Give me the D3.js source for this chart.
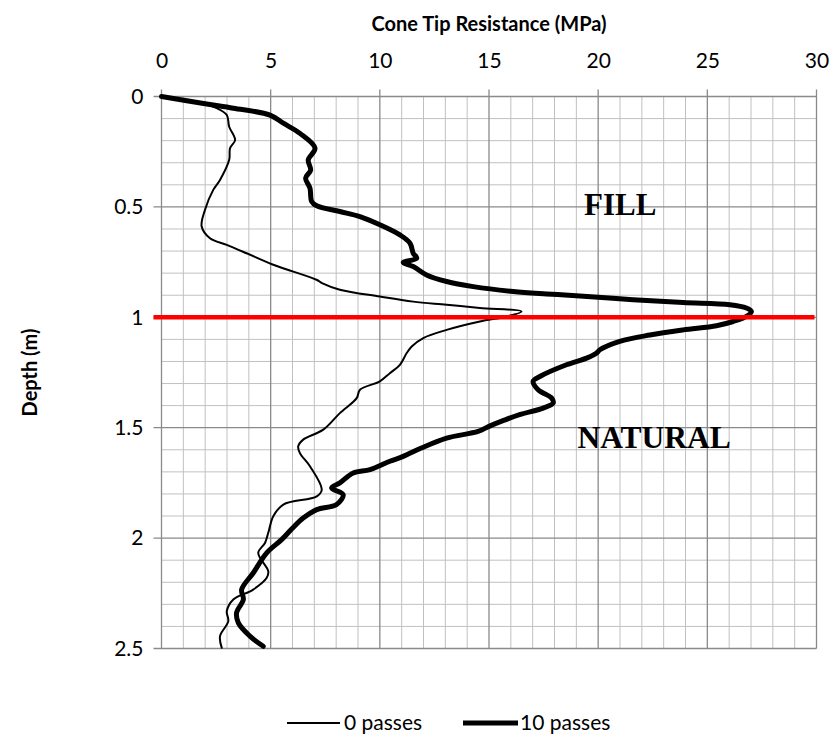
<!DOCTYPE html>
<html>
<head>
<meta charset="utf-8">
<script src="https://cdnjs.cloudflare.com/ajax/libs/d3/7.8.5/d3.min.js"></script>
<style>
  html, body { margin: 0; padding: 0; background: #ffffff; }
  svg { display: block; }
</style>
</head>
<body>
<svg id="chart" width="835" height="742"></svg>
<script>
// ---------------- DATA ----------------
const xTickLabels = ["0", "5", "10", "15", "20", "25", "30"];
const yTickLabels = ["0", "0.5", "1", "1.5", "2", "2.5"];
const xTicks = [0, 5, 10, 15, 20, 25, 30];
const yTicks = [0, 0.5, 1, 1.5, 2, 2.5];
const seriesNames = ["0 passes", "10 passes"];

// 0 passes: depth (m) and cone tip resistance (MPa)
const depth0 = [0, 0.034, 0.053, 0.084, 0.137, 0.197, 0.234, 0.287, 0.378, 0.423, 0.514, 0.589, 0.642, 0.672, 0.710, 0.762, 0.830, 0.845, 0.875, 0.906, 0.929, 0.943, 0.958, 0.974, 0.996, 1.019, 1.057, 1.094, 1.132, 1.162, 1.215, 1.253, 1.290, 1.328, 1.366, 1.434, 1.509, 1.554, 1.585, 1.615, 1.675, 1.781, 1.811, 1.848, 1.901, 1.976, 2.022, 2.067, 2.150, 2.180, 2.233, 2.278, 2.331, 2.376, 2.444, 2.497];
const q0 =     [0, 2.00, 2.53, 2.99, 3.10, 3.37, 3.14, 3.10, 2.68, 2.37, 1.99, 1.84, 2.22, 2.99, 3.90, 5.12, 7.10, 7.35, 8.17, 10.00, 11.53, 13.06, 14.58, 16.49, 15.81, 14.58, 13.06, 11.99, 11.46, 11.23, 10.92, 10.46, 10.00, 9.09, 8.94, 8.17, 7.41, 6.49, 6.26, 6.34, 6.80, 7.34, 7.11, 5.58, 5.12, 4.89, 4.74, 4.43, 4.89, 4.82, 4.20, 3.29, 2.99, 3.06, 2.68, 2.76];

// 10 passes
const depth10 = [0, 0.034, 0.053, 0.084, 0.121, 0.167, 0.234, 0.287, 0.333, 0.370, 0.415, 0.476, 0.495, 0.521, 0.544, 0.581, 0.627, 0.664, 0.710, 0.732, 0.752, 0.770, 0.808, 0.838, 0.861, 0.883, 0.894, 0.903, 0.920, 0.933, 0.943, 0.958, 0.974, 0.996, 1.019, 1.038, 1.057, 1.080, 1.109, 1.147, 1.162, 1.185, 1.215, 1.268, 1.290, 1.328, 1.366, 1.388, 1.411, 1.441, 1.466, 1.494, 1.517, 1.547, 1.592, 1.630, 1.652, 1.690, 1.705, 1.750, 1.773, 1.803, 1.848, 1.871, 1.909, 1.960, 2.007, 2.067, 2.158, 2.233, 2.278, 2.338, 2.384, 2.444, 2.490];
const q10 =     [0, 2.07, 3.29, 4.97, 5.58, 6.34, 7.03, 6.72, 6.83, 6.60, 6.80, 6.88, 7.11, 8.17, 9.09, 10.00, 10.92, 11.38, 11.53, 11.69, 11.07, 11.53, 12.14, 13.06, 14.28, 16.11, 17.64, 19.16, 21.60, 23.89, 26.03, 26.79, 27.02, 26.79, 26.18, 25.42, 23.89, 22.37, 20.99, 20.08, 19.93, 19.47, 18.55, 17.33, 17.02, 17.25, 17.87, 17.94, 17.48, 16.40, 15.70, 15.00, 14.50, 13.06, 11.90, 11.07, 10.46, 9.55, 8.78, 8.17, 7.79, 8.32, 8.02, 7.11, 6.49, 5.95, 5.50, 4.82, 4.20, 3.67, 3.75, 3.44, 3.52, 4.05, 4.66];

const boundaryDepth = 1.0;
const layerLabels = ["FILL", "NATURAL"];
const layerLabelQ = [19.35, 19.05];
const layerLabelDepth = [0.538, 1.59];

// ---------------- CHART ----------------
const svg = d3.select("#chart");
const x = d3.scaleLinear().domain([0, 30]).range([161.5, 816.5]);
const y = d3.scaleLinear().domain([0, 2.5]).range([96.5, 648.5]);

const sans = "Lato, 'Open Sans', 'DejaVu Sans', sans-serif";

// minor grid
const g = svg.append("g");
const minorX = d3.range(0, 31, 1).filter(v => v % 5 !== 0);
const minorY = d3.range(0, 26, 1).map(v => v / 10).filter((v, i) => i % 5 !== 0);
g.selectAll(".mx").data(minorX).enter().append("line")
  .attr("x1", d => x(d)).attr("x2", d => x(d))
  .attr("y1", y(0)).attr("y2", y(2.5))
  .attr("stroke", "#c0c0c0").attr("stroke-width", 1);
g.selectAll(".my").data(minorY).enter().append("line")
  .attr("x1", x(0)).attr("x2", x(30))
  .attr("y1", d => y(d)).attr("y2", d => y(d))
  .attr("stroke", "#c0c0c0").attr("stroke-width", 1);

// major grid + ticks
g.selectAll(".Mx").data(xTicks).enter().append("line")
  .attr("x1", d => x(d)).attr("x2", d => x(d))
  .attr("y1", y(0) - 7).attr("y2", y(2.5))
  .attr("stroke", "#8a8a8a").attr("stroke-width", 1.3);
g.selectAll(".My").data(yTicks).enter().append("line")
  .attr("x1", x(0) - 8).attr("x2", x(30))
  .attr("y1", d => y(d)).attr("y2", d => y(d))
  .attr("stroke", "#8a8a8a").attr("stroke-width", 1.3);

// axes labels via d3 axes
const xAxis = d3.axisTop(x).tickValues(xTicks).tickFormat((d, i) => xTickLabels[i]).tickSize(0).tickPadding(0);
const xg = svg.append("g").attr("transform", `translate(0,${y(0) - 29})`).call(xAxis);
xg.select(".domain").remove();
xg.selectAll("text").attr("font-family", sans).attr("font-size", 21).attr("fill", "#000")
  .attr("dy", "0");

const yAxis = d3.axisLeft(y).tickValues(yTicks).tickFormat((d, i) => yTickLabels[i]).tickSize(0).tickPadding(0);
const yg = svg.append("g").attr("transform", `translate(${x(0) - 18},0)`).call(yAxis);
yg.select(".domain").remove();
yg.selectAll("text").attr("font-family", sans).attr("font-size", 21).attr("fill", "#000");

// titles
svg.append("text").attr("x", (x(0) + x(30)) / 2).attr("y", 31)
  .attr("text-anchor", "middle").attr("font-family", sans).attr("font-weight", "bold")
  .attr("font-size", 20).text("Cone Tip Resistance (MPa)");
svg.append("text").attr("transform", `translate(37,${(y(0) + y(2.5)) / 2}) rotate(-90)`)
  .attr("text-anchor", "middle").attr("font-family", sans).attr("font-weight", "bold")
  .attr("font-size", 20).text("Depth (m)");

// series
const line = d3.line().x(d => x(d[1])).y(d => y(d[0])).curve(d3.curveCatmullRom.alpha(0.5));
const s0 = depth0.map((d, i) => [d, q0[i]]);
const s10 = depth10.map((d, i) => [d, q10[i]]);
svg.append("path").attr("d", line(s0)).attr("fill", "none").attr("stroke", "#000")
  .attr("stroke-width", 2).attr("stroke-linejoin", "round").attr("stroke-linecap", "round");
svg.append("path").attr("d", line(s10)).attr("fill", "none").attr("stroke", "#000")
  .attr("stroke-width", 5).attr("stroke-linejoin", "round").attr("stroke-linecap", "round");

// boundary line
svg.append("line").attr("x1", x(0) - 8).attr("x2", x(30) - 2)
  .attr("y1", y(boundaryDepth)).attr("y2", y(boundaryDepth))
  .attr("stroke", "#ff0000").attr("stroke-width", 4.5);

// layer labels
layerLabels.forEach((t, i) => {
  svg.append("text").attr("x", x(layerLabelQ[i])).attr("y", y(layerLabelDepth[i]))
    .attr("font-family", "'Liberation Serif', 'Times New Roman', serif")
    .attr("font-weight", "bold").attr("font-size", i === 0 ? 31 : 31.5).attr("fill", "#000").text(t);
});

// legend
const legY = 723;
const leg = svg.append("g");
leg.append("line").attr("x1", 287).attr("x2", 340).attr("y1", legY).attr("y2", legY)
  .attr("stroke", "#000").attr("stroke-width", 2);
leg.append("text").attr("x", 344).attr("y", legY + 7).attr("font-family", sans)
  .attr("font-size", 21).text(seriesNames[0]);
leg.append("line").attr("x1", 463).attr("x2", 518).attr("y1", legY).attr("y2", legY)
  .attr("stroke", "#000").attr("stroke-width", 5);
leg.append("text").attr("x", 520).attr("y", legY + 7).attr("font-family", sans)
  .attr("font-size", 21).text(seriesNames[1]);
</script>
</body>
</html>
